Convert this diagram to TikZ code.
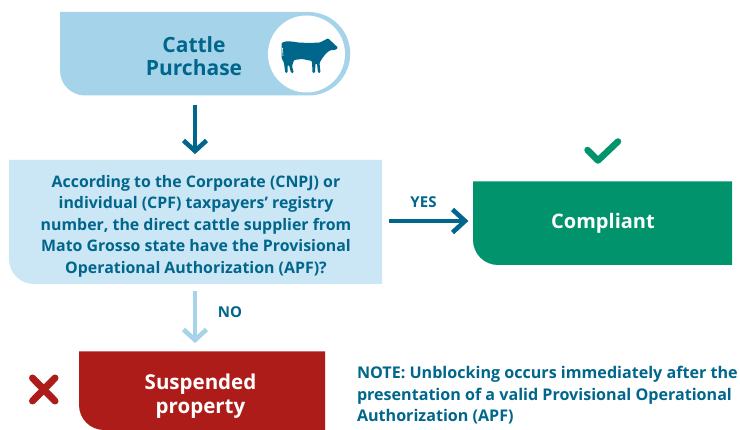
\documentclass[tikz,border=0pt]{standalone}
\usepackage{fontspec}
\setmainfont{Open Sans}
\definecolor{teal}{HTML}{00668C}
\definecolor{skyb}{HTML}{A5D3EA}
\definecolor{pale}{HTML}{CBE6F4}
\definecolor{grn}{HTML}{00936C}
\definecolor{redd}{HTML}{AE1C1A}
\tikzset{
  bg/.style={inner sep=0pt,outer sep=0pt},
  qtxt/.style={bg,align=center,text=teal,font=\bfseries\fontsize{15.9}{21.5}\selectfont},
  lbl/.style={bg,text=teal,font=\bfseries\fontsize{15}{15}\selectfont},
  notetxt/.style={bg,align=left,text=teal,font=\bfseries\fontsize{16.1}{21.7}\selectfont},
  arrowline/.style={line width=4pt},
  arrowhead/.style={line width=4.6pt}
}
\begin{document}
\begin{tikzpicture}[x=1pt,y=-1pt,line join=miter]
\useasboundingbox (0,0) rectangle (740,430);
\fill[white] (0,0) rectangle (740,430);
% top box
\fill[skyb] (60,12) -- (308.5,12) arc (90:-90:41.75pt) -- (85,95.5) arc (270:180:25pt) -- cycle;
\node[bg,circle,fill=white,minimum size=77pt] (circ) at (306.5,54) {};
\node[bg,align=center,text=teal,font=\bfseries\fontsize{21}{23}\selectfont] (purch) at (194,56.5) {Cattle\\Purchase};
% cow
\fill[teal,rounded corners=1pt] (281.5,43) -- (285,41.5) -- (292,41.5) -- (298,42.5) -- (309,43) -- (320,42.5) -- (325,40) -- (328,38.2) -- (331,41) -- (334,44) -- (338,47.5) -- (336,49.7) -- (330,50.3) -- (326,53.5) -- (322.5,58) -- (319.5,63) -- (320.5,72.8) -- (318,72.8) -- (317,63.5) -- (315.5,63.5) -- (315,72.8) -- (312.5,72.8) -- (312,61) -- (302,59) -- (294,60) -- (292,66) -- (293.8,72.8) -- (291,72.8) -- (289,65) -- (287.5,65) -- (287.7,72.8) -- (285.3,72.8) -- (284,63) -- (281.5,58) -- cycle;
\draw[white,line width=0.6pt] (282.5,48) -- (283,56);
% question
\fill[pale] (9,160) -- (382,160) -- (382,284) -- (34,284) arc (270:180:25pt) -- cycle;
\node[qtxt] (q) at (196,226) {According to the Corporate (CNPJ) or\\individual (CPF) taxpayers’ registry\\number, the direct cattle supplier from\\Mato Grosso state have the Provisional\\Operational Authorization (APF)?};
% compliant
\fill[grn] (473,181.5) -- (732,181.5) -- (732,265) -- (498,265) arc (270:180:25pt) -- cycle;
\node[bg,text=white,font=\bfseries\fontsize{20}{21}\selectfont] (comp) at (603,223.5) {Compliant};
% suspended
\fill[redd] (79,351.5) -- (325,351.5) -- (325,430) -- (104,430) arc (270:180:25pt) -- cycle;
\node[bg,text=white,font=\bfseries\fontsize{20.5}{24}\selectfont,align=center] (susp) at (200.5,396) {Suspended\\property};
% connector ends
\coordinate (a1s) at (195,105); \coordinate (a1e) at (195,152);
\coordinate (a2s) at (195,291); \coordinate (a2e) at (195,341);
\coordinate (a3s) at (389,221); \coordinate (a3e) at (464,221);
\draw[teal,arrowline] (a1s) -- (a1e);
\draw[teal,arrowhead] ([shift={(-11.5,-11.5)}]a1e) -- ([yshift=1]a1e) -- ([shift={(11.5,-11.5)}]a1e);
\draw[skyb,arrowline] (a2s) -- (a2e);
\draw[skyb,arrowhead] ([shift={(-11.5,-11.5)}]a2e) -- ([yshift=1]a2e) -- ([shift={(11.5,-11.5)}]a2e);
\draw[teal,arrowline] (a3s) -- (a3e);
\draw[teal,arrowhead] ([shift={(-11.5,-11.5)}]a3e) -- ([xshift=1]a3e) -- ([shift={(-11.5,11.5)}]a3e);
\node[lbl] (yes) at (423.5,202) {YES};
\node[lbl] (no) at (230,312) {NO};
% marks
\draw[grn,line width=6.5pt,line cap=round,line join=round] (587.5,150) -- (598,160.5) -- (618,141.5);
\draw[redd,line width=7pt,line cap=round] (32.5,378) -- (55,401);
\draw[redd,line width=7pt,line cap=round] (55,378) -- (32.5,401);
% note
\node[notetxt,anchor=north west] (note) at (357,366) {NOTE: Unblocking occurs immediately after the\\presentation of a valid Provisional Operational\\Authorization (APF)};
\end{tikzpicture}
\end{document}
